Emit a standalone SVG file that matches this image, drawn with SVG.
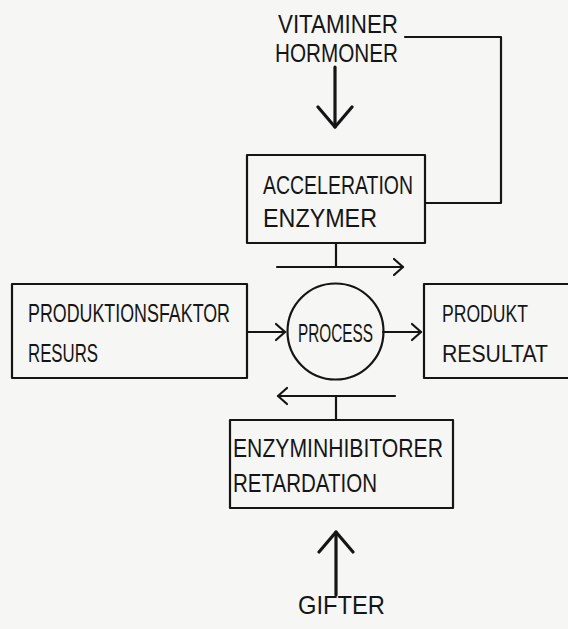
<svg xmlns="http://www.w3.org/2000/svg" width="568" height="629" viewBox="0 0 568 629">
<style>
.box{fill:none;stroke:#151515;stroke-width:2.2;stroke-linejoin:round}
.ln{fill:none;stroke:#151515;stroke-width:2.2;stroke-linecap:round;stroke-linejoin:round}
.big{fill:none;stroke:#151515;stroke-width:3.2;stroke-linecap:round;stroke-linejoin:round}
text{font-family:"Liberation Sans",Arial,sans-serif;font-size:26px;fill:#151515}
.sm{font-size:23px}
</style>
<defs>
<marker id="ah" markerUnits="userSpaceOnUse" markerWidth="20" markerHeight="20" refX="10" refY="10" orient="auto">
<path d="M1,2 L10,10 L1,18" fill="none" stroke="#151515" stroke-width="2.2" stroke-linecap="round" stroke-linejoin="round"/>
</marker>
<marker id="bh" markerUnits="userSpaceOnUse" markerWidth="44" markerHeight="44" refX="22" refY="22" orient="auto">
<path d="M2,5 L22,22 L2,39" fill="none" stroke="#151515" stroke-width="3.2" stroke-linecap="round" stroke-linejoin="round"/>
</marker>
</defs>
<rect width="568" height="629" fill="#f6f6f4"/>
<g id="connectors">
<path class="big" d="M335,67 L335,127" marker-end="url(#bh)"/>
<path class="ln" d="M405,37 L501,37 L501,203 L425,203"/>
<path class="ln" d="M336,243 L336,267"/>
<path class="ln" d="M277,267 L403,267" marker-end="url(#ah)"/>
<path class="ln" d="M247,332 L285,332" marker-end="url(#ah)"/>
<path class="ln" d="M383,332 L421,332" marker-end="url(#ah)"/>
<path class="ln" d="M395,396 L278,396" marker-end="url(#ah)"/>
<path class="ln" d="M336,396 L336,420"/>
<path class="big" d="M336,595 L336,532" marker-end="url(#bh)"/>
</g>
<g id="vitaminer">
<text x="278" y="33" textLength="120" lengthAdjust="spacingAndGlyphs">VITAMINER</text>
<text x="275" y="62" textLength="123" lengthAdjust="spacingAndGlyphs">HORMONER</text>
</g>
<g id="acceleration">
<rect class="box" x="247" y="155" width="178" height="88"/>
<text x="263" y="194" textLength="150" lengthAdjust="spacingAndGlyphs">ACCELERATION</text>
<text x="263" y="227" textLength="114" lengthAdjust="spacingAndGlyphs">ENZYMER</text>
</g>
<g id="produktionsfaktor">
<rect class="box" x="12" y="284" width="235" height="94"/>
<text x="28" y="322" textLength="202" lengthAdjust="spacingAndGlyphs">PRODUKTIONSFAKTOR</text>
<text x="28" y="362" textLength="70" lengthAdjust="spacingAndGlyphs">RESURS</text>
</g>
<g id="process">
<circle class="box" cx="335.5" cy="331.5" r="48"/>
<text x="298" y="342" textLength="75" lengthAdjust="spacingAndGlyphs">PROCESS</text>
</g>
<g id="produkt">
<path class="box" d="M568,284 L424,284 L424,378 L568,378"/>
<text class="sm" x="442" y="322" textLength="86" lengthAdjust="spacingAndGlyphs">PRODUKT</text>
<text class="sm" x="442" y="362" textLength="106" lengthAdjust="spacingAndGlyphs">RESULTAT</text>
</g>
<g id="enzyminhibitorer">
<rect class="box" x="230" y="420" width="223" height="88"/>
<text x="233" y="457" textLength="210" lengthAdjust="spacingAndGlyphs">ENZYMINHIBITORER</text>
<text x="233" y="492" textLength="144" lengthAdjust="spacingAndGlyphs">RETARDATION</text>
</g>
<g id="gifter">
<text x="298" y="614" textLength="87" lengthAdjust="spacingAndGlyphs">GIFTER</text>
</g>
</svg>
